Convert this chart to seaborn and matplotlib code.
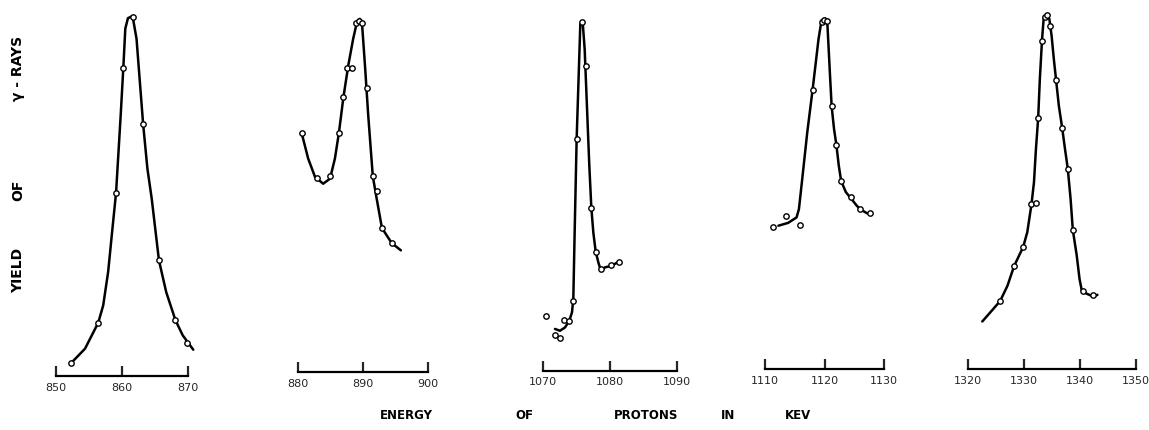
import matplotlib
matplotlib.use("Agg")
import matplotlib.pyplot as plt
import seaborn as sns

# ---------------- data (energy in keV, yield in arbitrary units 0-100) ----------------
p1_e = [852.3, 856.4, 859.1, 860.2, 861.6, 863.2, 865.6, 868.1, 869.9]
p1_y = [3.6, 14.8, 50.9, 85.6, 99.7, 70.0, 32.1, 15.5, 9.2]
p1_ce = [852.3, 854.4, 856.4, 857.15, 857.9, 858.5, 859.1, 859.8, 860.2, 860.5, 860.9,
         861.6, 862.2, 863.2, 863.85, 864.5, 865.6, 866.7, 868.1, 869.2, 870.8]
p1_cy = [3.6, 7.6, 14.8, 19.6, 28.9, 40.0, 50.9, 72.4, 85.6, 96.5, 99.4,
         100.0, 93.7, 70.0, 57.6, 49.3, 32.1, 23.3, 15.5, 11.3, 7.3]

p2_e = [880.7, 882.9, 885.0, 886.3, 887.0, 887.55, 888.3, 889.0, 889.4, 889.8,
        890.6, 891.5, 892.2, 892.9, 894.4]
p2_y = [66.3, 54.0, 54.4, 66.3, 76.3, 84.5, 84.5, 97.0, 97.4, 97.0,
        78.8, 54.4, 50.2, 40.0, 35.8]
p2_ce = [880.7, 881.6, 882.65, 883.9, 884.95, 885.7, 886.3, 887.0, 887.75, 888.5,
         889.1, 889.5, 889.85, 890.3, 890.8, 891.5, 892.1, 892.9, 894.4, 895.8]
p2_cy = [65.7, 59.3, 54.2, 52.3, 53.7, 59.3, 66.3, 76.3, 85.2, 92.6,
         97.4, 98.1, 96.8, 85.2, 71.3, 54.4, 48.1, 40.0, 35.8, 33.8]

p3_e = [1070.35, 1071.7, 1072.45, 1073.15, 1073.8, 1074.5, 1075.0, 1075.75,
        1076.4, 1077.2, 1077.85, 1078.7, 1080.1, 1081.4]
p3_y = [15.2, 9.9, 9.0, 14.1, 13.8, 19.3, 64.4, 96.8, 84.7, 45.3, 33.1, 28.2, 29.4, 30.3]
p3_ce = [1071.75, 1072.5, 1073.25, 1073.9, 1074.3, 1074.5, 1074.7, 1075.0, 1075.35,
         1075.55, 1075.9, 1076.2, 1076.5, 1076.9, 1077.2, 1077.5, 1077.85, 1078.25,
         1078.6, 1079.25, 1080.1, 1081.4]
p3_cy = [11.6, 11.1, 12.0, 13.9, 16.2, 19.9, 38.4, 64.4, 84.7,
         96.3, 96.9, 89.4, 75.5, 56.9, 45.3, 38.4, 33.1, 30.1,
         28.0, 28.7, 29.1, 30.3]

p4_e = [1111.3, 1113.6, 1115.9, 1118.0, 1119.5, 1119.9, 1120.4, 1121.2, 1122.0,
        1122.8, 1124.45, 1126.0, 1127.6]
p4_y = [39.4, 42.4, 40.1, 77.6, 96.3, 97.0, 96.7, 73.0, 62.2, 52.2, 47.9, 44.4, 43.4]
p4_ce = [1112.25, 1113.9, 1115.3, 1115.7, 1116.2, 1117.1, 1118.0, 1119.0, 1119.5,
         1120.1, 1120.5, 1120.9, 1121.2, 1121.6, 1122.0, 1122.4, 1122.8, 1123.6,
         1124.45, 1125.4, 1126.0, 1127.1, 1127.8]
p4_cy = [39.8, 40.6, 42.1, 44.4, 51.9, 65.7, 77.6, 91.7, 96.8,
         97.4, 95.4, 82.4, 73.0, 66.7, 62.2, 56.5, 52.2, 49.1,
         47.4, 45.4, 44.4, 43.3, 43.1]

p5_e = [1325.7, 1328.2, 1329.8, 1331.3, 1332.2, 1332.5, 1333.1, 1333.8, 1334.1,
        1334.7, 1335.7, 1336.8, 1337.8, 1338.7, 1340.5, 1342.25]
p5_y = [18.9, 28.6, 33.8, 45.7, 46.1, 69.7, 91.0, 97.7, 98.3,
        95.4, 80.3, 66.9, 55.6, 38.6, 21.6, 20.6]
p5_ce = [1322.5, 1324.2, 1325.7, 1327.0, 1328.2, 1329.2, 1329.8, 1330.55, 1331.3,
         1331.75, 1332.1, 1332.5, 1332.8, 1333.2, 1333.5, 1334.0, 1334.5, 1334.9,
         1335.3, 1335.7, 1336.2, 1336.8, 1337.3, 1337.8, 1338.3, 1338.7, 1339.4,
         1339.9, 1340.3, 1341.2, 1342.4, 1343.1]
p5_cy = [13.2, 16.2, 18.9, 23.1, 28.6, 31.9, 33.8, 38.0, 45.7,
         51.9, 61.1, 69.7, 80.6, 91.7, 97.7, 98.6, 97.2, 92.6,
         86.1, 80.3, 73.1, 66.9, 61.1, 55.6, 47.2, 38.6, 31.5,
         25.0, 21.8, 20.9, 20.1, 20.6]

xticks = [[850, 860, 870], [880, 890, 900], [1070, 1080, 1090],
          [1110, 1120, 1130], [1320, 1330, 1340, 1350]]
xlims = [(850, 870), (880, 900), (1070, 1090), (1110, 1130), (1320, 1350)]

ylabel_words = ["YIELD", "OF", "γ - RAYS"]
xlabel_words = ["ENERGY", "OF", "PROTONS", "IN", "KEV"]

panels = [(p1_e, p1_y, p1_ce, p1_cy), (p2_e, p2_y, p2_ce, p2_cy),
          (p3_e, p3_y, p3_ce, p3_cy), (p4_e, p4_y, p4_ce, p4_cy),
          (p5_e, p5_y, p5_ce, p5_cy)]

# ---------------- layout (pixels) ----------------
W, H = 1149, 431
panel_px = [(56, 188, 377), (297.7, 428.3, 373), (543.3, 676.7, 371.7),
            (765, 884, 370), (968.3, 1136, 370)]
plot_h = 360

sns.set_style("white")
plt.rcParams['font.family'] = ['DejaVu Sans']

fig = plt.figure(figsize=(W / 100, H / 100), dpi=100)
fig.patch.set_facecolor("white")

for (e, y, ce, cy), (x0, x1, base), ticks, lim in zip(panels, panel_px, xticks, xlims):
    ax = fig.add_axes([x0 / W, (H - base) / H, (x1 - x0) / W, plot_h / H])
    ax.set_facecolor("none")
    sns.lineplot(x=ce, y=cy, sort=False, estimator=None, color="black",
                 linewidth=1.8, ax=ax, clip_on=False)
    sns.scatterplot(x=e, y=y, marker="o", s=15, facecolor="white",
                    edgecolor="black", linewidth=1.0, ax=ax, zorder=3, clip_on=False)
    ax.set_xlim(*lim)
    ax.set_ylim(0, 100)
    ax.set_xticks(ticks)
    ax.set_xticklabels([str(t) for t in ticks])
    ax.tick_params(axis="x", direction="in", length=7, width=1.6, pad=4,
                   labelsize=8, bottom=True)
    ax.set_yticks([])
    for s in ["top", "left", "right"]:
        ax.spines[s].set_visible(False)
    ax.spines["bottom"].set_linewidth(1.6)
    ax.spines["bottom"].set_color("black")
    ax.set_xlabel("")
    ax.set_ylabel("")

# vertical axis title (spread words)
for word, yc in zip(ylabel_words, [270, 190, 68]):
    fig.text(18 / W, (H - yc) / H, word, rotation=90, ha="center", va="center",
             fontsize=10, fontweight="bold", color="black")

# horizontal axis title (spread words)
for word, xc in zip(xlabel_words, [406, 524, 646, 728, 798]):
    fig.text(xc / W, (H - 416) / H, word, ha="center", va="center",
             fontsize=8.5, fontweight="bold", color="black")

fig.savefig("out.png", dpi=100, facecolor="white")
